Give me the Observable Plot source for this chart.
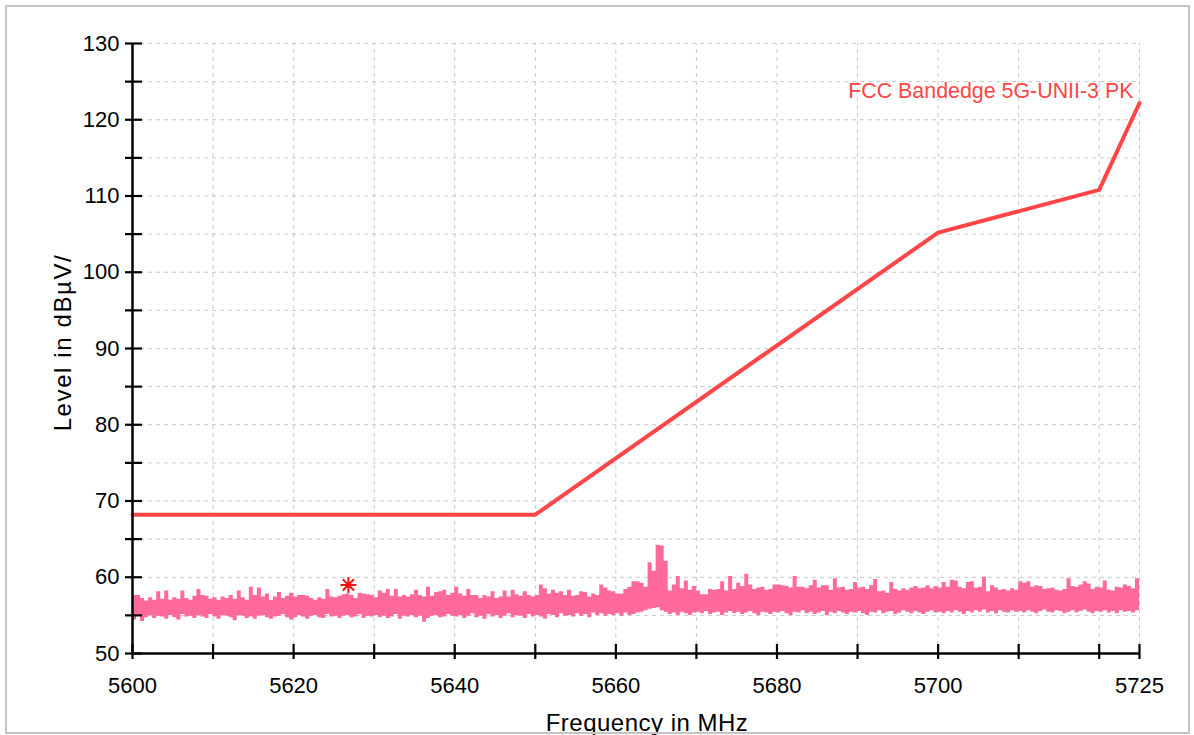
<!DOCTYPE html>
<html><head><meta charset="utf-8">
<script src="https://cdn.jsdelivr.net/npm/d3@7"></script>
<script src="https://cdn.jsdelivr.net/npm/@observablehq/plot@0.6"></script>
<style>
html,body{margin:0;padding:0;background:#fff;}
#wrap{position:relative;width:1194px;height:735px;overflow:hidden;font-family:"Liberation Sans",Arial,sans-serif;}
#frame{position:absolute;left:5px;top:5px;width:1181px;height:725px;border:2px solid #c4c4c4;pointer-events:none;}
.ytitle text{letter-spacing:1.6px;}
.xtitle text{letter-spacing:0.5px;}
</style></head>
<body><div id="wrap"><div id="chart"></div><div id="frame"></div></div>
<script>
// ---- data ----
const limitFreq = [5600, 5650, 5700, 5720, 5725];
const limitLevel = [68.2, 68.2, 105.2, 110.8, 122.2];
const limitName = "FCC Bandedge 5G-UNII-3 PK";

const markerFreq = [5626.8];
const markerLevel = [59.0];

const noiseStart = 5600;   // MHz
const noiseStep = 0.5;     // MHz per bin
const noiseHigh = [
  57.6,57.6,57.2,56.9,57.3,57.0,58.1,57.1,58.2,57.0,57.3,57.1,58.2,57.2,57.0,57.5,58.4,57.6,57.5,57.1,
  57.3,57.0,57.4,57.2,57.6,57.1,58.2,57.3,57.0,58.7,57.6,58.6,57.4,57.8,57.0,57.4,58.0,57.2,57.5,57.9,
  57.4,57.6,57.6,57.5,57.2,57.0,57.3,57.1,58.4,57.4,57.3,57.5,57.7,57.8,57.6,57.2,57.9,57.8,57.7,57.6,
  57.3,58.2,57.9,58.4,57.5,58.4,57.4,57.6,57.4,57.7,58.3,57.6,57.4,58.7,57.5,58.0,58.1,58.3,57.6,57.9,
  58.7,57.8,57.5,58.4,57.6,57.6,57.2,57.6,57.4,58.1,57.2,57.4,58.2,57.4,58.3,57.7,57.5,58.1,57.6,57.4,
  57.6,59.0,58.5,57.8,58.3,57.9,58.1,57.6,58.3,57.5,57.6,58.1,58.0,57.4,57.8,57.6,59.0,58.6,58.2,58.1,
  57.8,57.8,58.4,58.7,59.4,59.4,59.2,58.7,61.9,60.8,64.2,64.1,62.1,58.2,59.0,60.1,58.5,59.5,58.3,58.8,
  58.2,57.7,57.7,58.4,58.3,58.4,59.4,58.2,60.1,58.4,59.2,58.8,60.4,59.0,58.4,58.6,58.7,58.3,58.4,59.0,
  59.0,58.9,58.8,58.6,60.1,58.7,58.7,58.5,58.9,59.6,58.6,58.9,58.9,58.3,59.8,58.6,58.7,58.3,58.4,59.3,
  58.6,58.7,58.4,58.9,59.7,58.1,58.2,57.9,59.3,58.4,58.2,58.5,58.3,58.6,58.8,58.5,58.6,58.9,58.5,58.8,
  58.6,59.3,58.7,59.6,59.5,58.7,58.5,59.3,59.4,58.6,58.7,60.0,58.1,58.9,58.6,58.3,58.4,58.2,58.5,58.3,
  59.4,59.2,59.4,58.7,58.9,58.8,58.4,58.5,58.6,58.3,58.2,58.4,59.8,58.8,58.7,59.0,59.4,59.1,58.4,58.7,
  58.6,59.5,58.3,58.2,58.7,58.6,59.0,58.8,58.5,59.8
];
const noiseLow = [
  54.4,54.9,54.2,54.7,55.0,54.6,54.9,54.8,54.5,55.0,54.7,54.4,55.1,54.8,54.9,54.6,55.0,54.8,54.6,55.1,
  54.8,54.5,55.0,54.9,54.7,54.3,55.0,54.9,54.6,54.8,54.5,54.9,55.0,54.7,54.5,54.8,54.9,55.1,54.7,54.4,
  54.7,55.0,54.8,54.5,54.9,55.0,54.7,54.6,55.1,54.8,54.9,54.6,54.9,55.0,54.7,54.8,55.1,54.6,54.9,54.8,
  55.0,54.7,54.9,54.6,54.8,55.1,54.5,54.9,54.8,55.0,54.7,54.9,54.1,54.6,54.9,55.0,54.7,54.8,55.1,54.9,
  54.8,55.0,54.6,54.9,55.2,54.7,54.9,54.5,55.1,54.8,55.0,54.6,54.9,55.2,54.7,55.0,54.9,54.6,55.1,54.8,
  55.0,54.8,54.5,55.1,55.0,54.7,55.2,54.9,55.0,54.8,55.2,54.9,55.1,54.7,55.3,55.0,55.2,54.9,55.1,55.0,
  55.2,54.9,55.3,55.0,55.1,55.3,55.4,55.6,55.8,55.9,56.0,55.6,55.4,55.1,55.3,55.0,55.4,55.2,55.0,55.3,
  55.4,55.2,55.5,55.1,55.3,55.4,55.0,55.3,55.5,55.2,55.4,55.1,55.3,55.5,55.2,55.0,55.4,55.3,55.1,55.4,
  55.3,55.5,55.2,55.0,55.4,55.3,55.6,55.2,55.4,55.1,55.3,55.5,55.0,55.4,55.2,55.5,55.3,55.1,55.4,55.3,
  55.5,55.2,55.0,55.4,55.3,55.6,55.2,55.4,55.5,55.1,55.3,55.6,55.4,55.2,55.5,55.3,55.1,55.4,55.6,55.3,
  55.4,55.2,55.5,55.3,55.6,55.4,55.1,55.5,55.3,55.6,55.4,55.7,55.3,55.5,55.2,55.6,55.4,55.3,55.6,55.4,
  55.5,55.3,55.6,55.4,55.2,55.5,55.7,55.4,55.3,55.6,55.5,55.2,55.4,55.6,55.3,55.5,55.7,55.4,55.2,55.5,
  55.4,55.6,55.3,55.5,55.2,55.6,55.4,55.5,55.3,55.6
];

const xTicks = [5600,5610,5620,5630,5640,5650,5660,5670,5680,5690,5700,5710,5720,5725];
const xLabels = [5600,5620,5640,5660,5680,5700,5725];
const yTicks = [50,55,60,65,70,75,80,85,90,95,100,105,110,115,120,125,130];
const yLabels = [50,60,70,80,90,100,110,120,130];
const xTitle = "Frequency in MHz";
const yTitle = "Level in dBµV/";

// ---- derived tables ----
const limit = limitFreq.map((f, i) => ({f, v: limitLevel[i]}));
const marker = markerFreq.map((f, i) => ({f, v: markerLevel[i]}));
const noise = noiseHigh.map((h, i) => ({f: noiseStart + i * noiseStep, hi: h, lo: noiseLow[i]}));
// closing point so the last step reaches the band edge
noise.push({f: noiseStart + noiseHigh.length * noiseStep, hi: noiseHigh[noiseHigh.length - 1], lo: noiseLow[noiseLow.length - 1]});

const star8 = {
  draw(ctx, size) {
    const r = Math.sqrt(size / Math.PI);
    const d = r * Math.SQRT1_2;
    ctx.moveTo(-r, 0); ctx.lineTo(r, 0);
    ctx.moveTo(0, -r); ctx.lineTo(0, r);
    ctx.moveTo(-d, -d); ctx.lineTo(d, d);
    ctx.moveTo(-d, d); ctx.lineTo(d, -d);
  }
};

const font = '"Liberation Sans", Arial, sans-serif';
const red = "#ff4545";
const pink = "#ff6a9a";

const chart = Plot.plot({
  width: 1194, height: 735,
  marginLeft: 132, marginRight: 55, marginTop: 43, marginBottom: 82,
  x: {domain: [5600, 5725], axis: null},
  y: {domain: [50, 130], axis: null},
  style: {fontFamily: font, fontSize: "21px", background: "transparent", overflow: "visible"},
  marks: [
    Plot.ruleX(xTicks.filter(d => d !== 5600), {x: d => d, y1: 50, y2: 130, stroke: "#c8c8c8", strokeWidth: 1, strokeDasharray: "4,4"}),
    Plot.ruleY(yTicks.filter(d => d !== 50), {y: d => d, x1: 5600, x2: 5725, stroke: "#c8c8c8", strokeWidth: 1, strokeDasharray: "4,4"}),
    Plot.areaY(noise, {x: "f", y1: "lo", y2: "hi", curve: "step-after", fill: pink, fillOpacity: 1}),
    Plot.line(limit, {x: "f", y: "v", stroke: red, strokeWidth: 4, strokeLinejoin: "round"}),
    Plot.dot(marker, {x: "f", y: "v", symbol: star8, r: 8, stroke: "#ff1010", strokeWidth: 2}),
    // axis lines
    Plot.ruleX([5600], {x: d => d, y1: 50, y2: 130, stroke: "#000", strokeWidth: 2.5}),
    Plot.ruleY([50], {y: d => d, x1: 5600, x2: 5725, stroke: "#000", strokeWidth: 2.5}),
    // ticks crossing the axes
    Plot.ruleY(yTicks, {y: d => d, x1: 5600, x2: 5600, insetLeft: -7, insetRight: -10, stroke: "#000", strokeWidth: 2.2}),
    Plot.ruleX(xTicks, {x: d => d, y1: 50, y2: 50, insetTop: -9, insetBottom: -6, stroke: "#000", strokeWidth: 2.2}),
    // tick labels
    Plot.text(yLabels, {x: 5600, y: d => d, text: d => String(d), dx: -13, textAnchor: "end", lineAnchor: "middle", fill: "#000", fontSize: 22}),
    Plot.text(xLabels, {x: d => d, y: 50, text: d => String(d), dy: 32, textAnchor: "middle", lineAnchor: "middle", fill: "#000", fontSize: 22}),
    // titles
    Plot.text([yTitle], {className: "ytitle", frameAnchor: "left", dx: -69, dy: -6, rotate: -90, textAnchor: "middle", lineAnchor: "middle", text: d => d, fill: "#000", fontSize: 24}),
    Plot.text([xTitle], {className: "xtitle", frameAnchor: "bottom", dx: 11, dy: 70, textAnchor: "middle", lineAnchor: "middle", text: d => d, fill: "#000", fontSize: 24}),
    Plot.text([limitName], {frameAnchor: "top-right", dx: -6, dy: 48, text: d => d, textAnchor: "end", lineAnchor: "middle", fill: red, fontSize: 21.4})
  ]
});
document.getElementById("chart").appendChild(chart);
</script>
</body></html>
